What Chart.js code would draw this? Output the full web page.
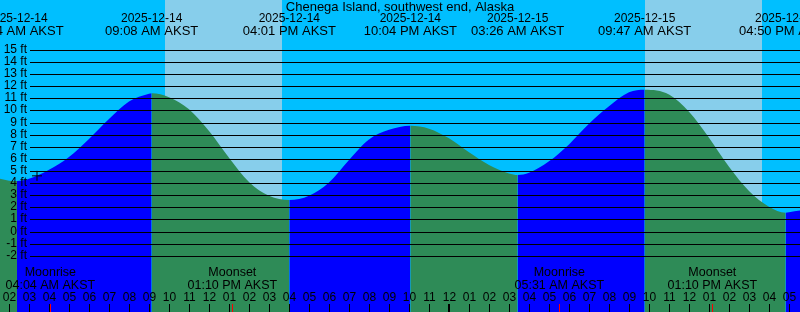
<!DOCTYPE html>
<html>
<head>
<meta charset="utf-8">
<script src="https://cdn.jsdelivr.net/npm/chart.js@4/dist/chart.umd.min.js"></script>
<style>
  html, body { margin: 0; padding: 0; background: #00bfff; }
  canvas { display: block; }
</style>
</head>
<body>
<canvas id="tideChart" width="800" height="312"></canvas>
<script>
"use strict";

const stationName = "Chenega Island, southwest end, Alaska";

// hours since 2025-12-14 00:00 AKST, heights in ft
const curveTimes = [1, 2, 2.4, 3, 4, 5, 6, 7, 8, 9, 9.133, 10, 11, 12, 13, 14, 15, 16.017,
    17, 18, 19, 20, 21, 22.067, 23, 24, 25, 26, 27, 27.433, 28, 29, 30, 31, 32, 33, 33.783,
    35, 36, 37, 38, 39, 40, 40.833, 41, 42];
const curveFeet = [4.6, 4.2, 4.17, 4.35, 5.1, 6.15, 7.65, 9.3, 10.75, 11.38, 11.42, 11.1, 10.1, 8.3, 6.1, 4.1, 2.95, 2.6,
    2.95, 4.05, 5.9, 7.6, 8.4, 8.74, 8.5, 7.7, 6.55, 5.5, 4.8, 4.67, 4.85, 5.8, 7.2, 8.9, 10.35, 11.5, 11.72,
    11.33, 9.9, 7.75, 5.35, 3.35, 2.05, 1.55, 1.6, 1.85];

// high / low tide events
const tideTimes = [2.4, 9.133, 16.017, 22.067, 27.433, 33.783, 40.833];
const tideDates = ["2025-12-14", "2025-12-14", "2025-12-14", "2025-12-14", "2025-12-15", "2025-12-15", "2025-12-15"];
const tideClock = ["02:24 AM AKST", "09:08 AM AKST", "04:01 PM AKST", "10:04 PM AKST",
    "03:26 AM AKST", "09:47 AM AKST", "04:50 PM AKST"];

const moonTimes = [4.067, 13.167, 29.517, 37.167];
const moonNames = ["Moonrise", "Moonset", "Moonrise", "Moonset"];
const moonClock = ["04:04 AM AKST", "01:10 PM AKST", "05:31 AM AKST", "01:10 PM AKST"];

const sunriseTimes = [9.8, 33.8];
const sunsetTimes = [15.65, 39.65];

const footTicks = [15, 14, 13, 12, 11, 10, 9, 8, 7, 6, 5, 4, 3, 2, 1, 0, -1, -2];
const hourTicks = [2, 3, 4, 5, 6, 7, 8, 9, 10, 11, 12, 13, 14, 15, 16, 17, 18, 19, 20, 21,
    22, 23, 24, 25, 26, 27, 28, 29, 30, 31, 32, 33, 34, 35, 36, 37, 38, 39, 40, 41];
const hourLabels = ["02", "03", "04", "05", "06", "07", "08", "09", "10", "11", "12",
    "01", "02", "03", "04", "05", "06", "07", "08", "09", "10", "11", "12",
    "01", "02", "03", "04", "05", "06", "07", "08", "09", "10", "11", "12",
    "01", "02", "03", "04", "05"];

const nowTime = [3.4];
const nowFeet = [4.6];

const FONT = '"Liberation Sans", Arial, sans-serif';

const tideDecor = {
    id: "tideDecor",
    beforeDatasetsDraw(chart) {
        const { ctx, scales: { x } } = chart;
        ctx.save();
        ctx.fillStyle = "#00bfff";
        ctx.fillRect(0, 0, chart.width, chart.height);
        ctx.fillStyle = "#87ceeb";
        for (let i = 0; i < sunriseTimes.length; i++) {
            const x0 = Math.round(x.getPixelForValue(sunriseTimes[i]));
            const x1 = Math.round(x.getPixelForValue(sunsetTimes[i]));
            ctx.fillRect(x0, 0, x1 - x0, chart.height);
        }
        ctx.restore();
    },
    afterDatasetsDraw(chart) {
        const { ctx, scales: { x, y } } = chart;
        ctx.save();

        // foot lines and labels
        ctx.strokeStyle = "#000";
        ctx.lineWidth = 1;
        ctx.fillStyle = "#000";
        ctx.font = "12px " + FONT;
        ctx.textAlign = "right";
        ctx.textBaseline = "middle";
        footTicks.forEach(v => {
            const py = Math.round(y.getPixelForValue(v)) + 0.5;
            ctx.beginPath();
            ctx.moveTo(30, py);
            ctx.lineTo(chart.width, py);
            ctx.stroke();
            ctx.fillText(v + " ft", 27, py - 1);
        });

        // hour ticks
        ctx.textAlign = "center";
        hourTicks.forEach((h, i) => {
            const px = Math.round(x.getPixelForValue(h));
            ctx.fillRect(h % 24 === 0 ? px - 1 : px, 304, h % 24 === 0 ? 2 : 1, 8);
            ctx.fillText(hourLabels[i], px + 0.5, 298);
        });
        ctx.fillStyle = "#ff0000";
        moonTimes.forEach(t => {
            const px = Math.round(x.getPixelForValue(t));
            ctx.fillRect(px, 304, 1, 8);
        });

        // moon events
        ctx.fillStyle = "#000";
        ctx.font = "12.5px " + FONT;
        moonTimes.forEach((t, i) => {
            const px = x.getPixelForValue(t);
            ctx.fillText(moonNames[i], px, 273);
            ctx.fillText(moonClock[i], px, 286);
        });

        // tide events
        tideTimes.forEach((t, i) => {
            const px = x.getPixelForValue(t);
            ctx.font = "12px " + FONT;
            ctx.fillText(tideDates[i], px, 19);
            ctx.font = "13px " + FONT;
            ctx.fillText(tideClock[i], px, 31);
        });

        ctx.font = "13px " + FONT;
        ctx.fillText(stationName, 400, 7);
        ctx.restore();
    }
};

const curvePoints = curveTimes.map((t, i) => ({ x: t, y: curveFeet[i] }));
const nowPoints = nowTime.map((t, i) => ({ x: t, y: nowFeet[i] }));

new Chart(document.getElementById("tideChart").getContext("2d"), {
    type: "line",
    data: {
        datasets: [{
            data: nowPoints,
            showLine: false,
            pointStyle: "cross",
            pointRadius: 5,
            borderColor: "#000",
            borderWidth: 1,
            order: 0
        }, {
            data: curvePoints,
            borderWidth: 0,
            borderColor: "rgba(0,0,0,0)",
            pointRadius: 0,
            cubicInterpolationMode: "monotone",
            fill: "start",
            backgroundColor: "#0000ff",
            segment: {
                backgroundColor: c => c.p1.y < c.p0.y ? "#0000ff" : "#2e8b57"
            },
            order: 1
        }]
    },
    options: {
        responsive: false,
        animation: false,
        events: [],
        layout: { padding: 0, autoPadding: false },
        plugins: { legend: { display: false }, tooltip: { enabled: false } },
        scales: {
            x: { type: "linear", min: 1.55, max: 41.55, display: false },
            y: { type: "linear", min: -6.65, max: 19.13, display: false }
        }
    },
    plugins: [tideDecor]
});
</script>
</body>
</html>
